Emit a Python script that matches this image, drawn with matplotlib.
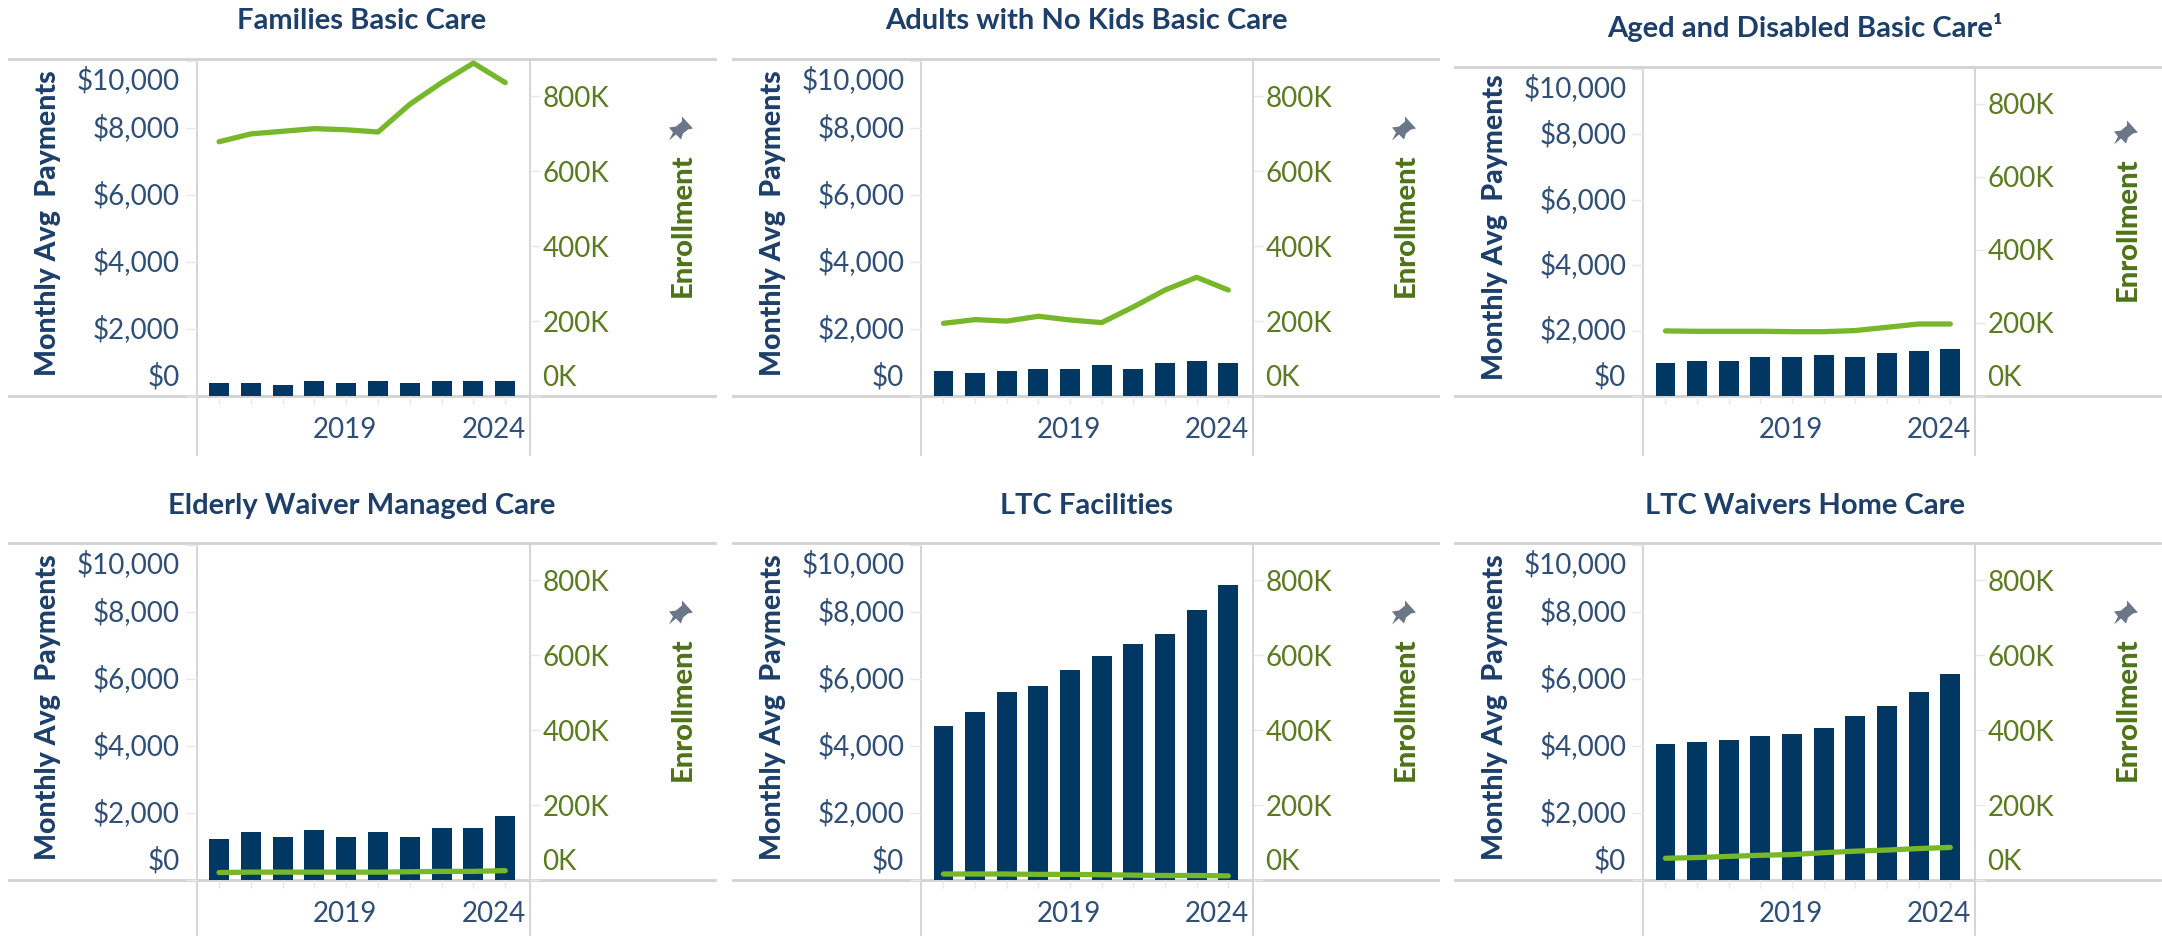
import matplotlib

matplotlib.use("Agg")
import matplotlib.pyplot as plt
from matplotlib.lines import Line2D
from matplotlib.patches import Polygon
from matplotlib.transforms import ScaledTranslation

WIDTH, HEIGHT = 2162, 936
DPI = 100

years = [2015, 2016, 2017, 2018, 2019, 2020, 2021, 2022, 2023, 2024]

titles = [
    "Families Basic Care",
    "Adults with No Kids Basic Care",
    "Aged and Disabled Basic Care\u00b9",
    "Elderly Waiver Managed Care",
    "LTC Facilities",
    "LTC Waivers Home Care",
]

families_pay = [390, 390, 330, 450, 390, 450, 390, 450, 450, 450]
adults_pay = [750, 690, 750, 810, 810, 930, 810, 990, 1050, 990]
aged_pay = [1005, 1065, 1065, 1190, 1190, 1250, 1190, 1310, 1370, 1430]
elderly_pay = [1210, 1445, 1270, 1505, 1270, 1445, 1270, 1565, 1565, 1920]
facilities_pay = [4590, 5010, 5600, 5780, 6260, 6670, 7030, 7330, 8040, 8810]
home_pay = [4060, 4120, 4180, 4300, 4360, 4530, 4890, 5190, 5600, 6140]

families_enr = [679, 700, 707, 714, 711, 705, 779, 837, 889, 837]
adults_enr = [194, 204, 200, 213, 203, 196, 238, 283, 317, 283]
aged_enr = [178, 177, 177, 177, 176, 176, 179, 188, 197, 197]
elderly_enr = [20, 21, 21, 21, 21, 21, 22, 23, 23, 25]
facilities_enr = [16, 16, 16, 15, 15, 14, 13, 12, 12, 11]
home_enr = [58, 60, 63, 66, 68, 73, 77, 80, 84, 87]

payments = [families_pay, adults_pay, aged_pay, elderly_pay, facilities_pay, home_pay]
enrollment = [families_enr, adults_enr, aged_enr, elderly_enr, facilities_enr, home_enr]

pay_ticks = [0, 2000, 4000, 6000, 8000, 10000]
pay_labels = ["$0", "$2,000", "$4,000", "$6,000", "$8,000", "$10,000"]
enr_ticks = [0, 200, 400, 600, 800]
enr_labels = ["0K", "200K", "400K", "600K", "800K"]

NAVY = "#003763"
GREEN = "#76b82a"
TITLE = "#1c3f6b"
LEFT_TEXT = "#2f4f78"
RIGHT_TEXT = "#5b7b1f"
ENR_TEXT = "#4d7317"
RULE = "#d2d2d2"
TICK = "#e8e8e8"
PIN = "#6b7688"

# pane left edge, right edge, rule start, rule end, top rule, baseline, rule bottom
panes = [
    (196.5, 530, 9, 715, 59, 396, 455),
    (921, 1253, 733, 1438, 59, 396, 455),
    (1643, 1975, 1455, 2160, 67, 396, 455),
    (196.5, 530, 9, 715, 543, 880, 936),
    (921, 1253, 733, 1438, 543, 880, 936),
    (1643, 1975, 1455, 2160, 543, 880, 936),
]
title_pos = [(362, 21), (1086, 21), (1805, 27), (362, 506), (1086, 506), (1805, 506)]

fig = plt.figure(figsize=(WIDTH / DPI, HEIGHT / DPI), dpi=DPI, facecolor="white")


def fx(x):
    return x / WIDTH


def fy(y):
    return 1 - y / HEIGHT


def shift(label, dx, dy):
    """Move a tick label by a number of pixels (y measured downward)."""
    label.set_transform(
        label.get_transform() + ScaledTranslation(dx / DPI, -dy / DPI, fig.dpi_scale_trans)
    )


def add_rule(x0, y0, x1, y1, lw):
    fig.add_artist(Line2D([fx(x0), fx(x1)], [fy(y0), fy(y1)], color=RULE, lw=lw, zorder=0))


def add_pin(cx, cy):
    shape = [(2, -14), (13, -2), (8, -1), (3, 3), (1, 9), (-4, 4), (-11, 10), (-7, 2), (-11, -3), (-4, -4), (2, -9)]
    pts = [(fx(cx + dx), fy(cy + dy)) for dx, dy in shape]
    fig.add_artist(Polygon(pts, closed=True, facecolor=PIN, edgecolor="none", transform=fig.transFigure))


def draw_panel(i):
    left, right, rule_l, rule_r, top, base, bottom = panes[i]
    ax = fig.add_axes([fx(left), fy(base), (right - left) / WIDTH, (base - top) / HEIGHT])
    ax.patch.set_alpha(0)
    for side in ax.spines:
        ax.spines[side].set_visible(False)

    add_rule(rule_l, top, rule_r, top, 2.0)
    add_rule(rule_l, base, rule_r, base, 2.0)
    add_rule(left, top, left, bottom, 1.3)
    add_rule(right, top, right, bottom, 1.3)

    ax.bar(years, payments[i], width=0.63, color=NAVY, zorder=2)
    ax.set_xlim(2014.29, 2024.78)
    ax.set_ylim(0, 10050)
    ax.set_yticks(pay_ticks, pay_labels, fontsize=20, color=LEFT_TEXT, family="Lato")
    ax.tick_params(axis="y", length=8, width=1, color=TICK, pad=4)
    for lbl, tick in zip(ax.get_yticklabels(), pay_ticks):
        if tick == 0:
            shift(lbl, 0, -22)
        elif tick == 10000:
            shift(lbl, 0, 17)
        else:
            shift(lbl, 0, -2.5)

    ax.set_xticks(years, ["", "", "", "", "2019", "", "", "", "", "2024"], fontsize=20, color=LEFT_TEXT, family="Lato")
    ax.tick_params(axis="x", length=6, width=1, color=TICK, pad=9)
    for lbl, year in zip(ax.get_xticklabels(), years):
        if year == 2019:
            shift(lbl, -1, 0)
        elif year == 2024:
            shift(lbl, -11, 0)

    ax2 = ax.twinx()
    ax2.patch.set_alpha(0)
    for side in ax2.spines:
        ax2.spines[side].set_visible(False)
    ax2.plot(years, enrollment[i], color=GREEN, lw=3.8, solid_capstyle="round", solid_joinstyle="round")
    ax2.set_ylim(0, 900)
    ax2.set_yticks(enr_ticks, enr_labels, fontsize=20, color=RIGHT_TEXT, family="Lato")
    ax2.tick_params(axis="y", length=7, width=1, color=TICK, pad=2)
    shift(ax2.get_yticklabels()[0], 0, -21)

    mid = (top + base) / 2
    fig.text(fx(left - 148.5), fy(mid - 4), "Monthly Avg  Payments", rotation=90, ha="center", va="center",
             fontsize=20.5, fontweight="black", color=TITLE, family="Lato")
    fig.text(fx(right + 153), fy(mid - 2), "Enrollment", rotation=90, ha="center", va="center",
             fontsize=21, fontweight="black", color=ENR_TEXT, family="Lato")
    add_pin(right + 150, mid - 97)

    tx, ty = title_pos[i]
    fig.text(fx(tx), fy(ty), titles[i], ha="center", va="center", fontsize=21, fontweight="bold",
             color=TITLE, family="Lato")


for n in range(len(titles)):
    draw_panel(n)

fig.savefig("out.png", dpi=DPI, facecolor="white")
